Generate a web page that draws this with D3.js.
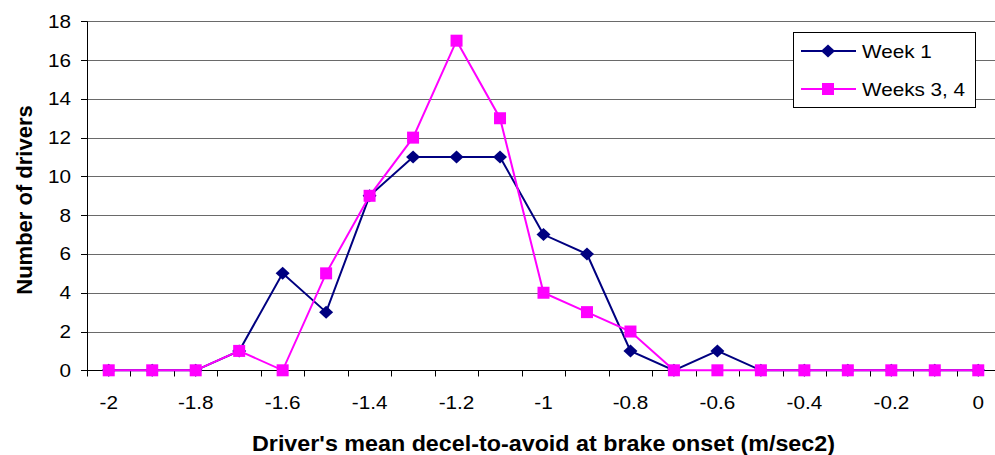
<!DOCTYPE html>
<html><head><meta charset="utf-8">
<script src="https://cdn.jsdelivr.net/npm/d3@7"></script>
<style>body{margin:0;background:#fff;} text{font-family:Arial,"Liberation Sans",sans-serif;}</style>
</head><body>
<svg id="c" width="995" height="455"></svg>
<script>
const categories = [-2,-1.9,-1.8,-1.7,-1.6,-1.5,-1.4,-1.3,-1.2,-1.1,-1,-0.9,-0.8,-0.7,-0.6,-0.5,-0.4,-0.3,-0.2,-0.1,0];
const week1 = [0,0,0,1,5,3,9,11,11,11,7,6,1,0,1,0,0,0,0,0,0];
const weeks34 = [0,0,0,1,0,5,9,12,17,13,4,3,2,0,0,0,0,0,0,0,0];
const yTicks = [0,2,4,6,8,10,12,14,16,18];
const xLabels = ["-2","-1.8","-1.6","-1.4","-1.2","-1","-0.8","-0.6","-0.4","-0.2","0"];
const seriesNames = ["Week 1","Weeks 3, 4"];

const svg = d3.select("#c");
const L = 87, R = 1000, T = 21.3, B = 370.3;
const SX = 1.15; // horizontal text stretch
const x = d3.scaleBand().domain(categories.map(String)).range([L, R]);
const y = d3.scaleLinear().domain([0,18]).range([B, T]);

// gridlines
svg.append("g").selectAll("line").data(yTicks.filter(d=>d>0)).join("line")
  .attr("x1", L).attr("x2", R).attr("y1", d=>Math.round(y(d))+0.5).attr("y2", d=>Math.round(y(d))+0.5)
  .attr("stroke", "#6a6a6a").attr("stroke-width", 1);

// y axis
const yg = svg.append("g");
yg.append("line").attr("x1", L+0.5).attr("x2", L+0.5).attr("y1", T).attr("y2", B+0.5).attr("stroke","#000");
yg.selectAll("line.tk").data(yTicks).join("line").attr("class","tk")
  .attr("x1", L-6).attr("x2", L).attr("y1", d=>Math.round(y(d))+0.5).attr("y2", d=>Math.round(y(d))+0.5).attr("stroke","#000");
yg.selectAll("text").data(yTicks).join("text")
  .attr("transform", d=>`translate(71,${y(d)+6.5}) scale(${SX},1)`)
  .attr("text-anchor","end").attr("font-size",18).attr("fill","#000").text(d=>d);

// x axis
const xg = svg.append("g").attr("transform", `translate(0,${Math.round(B)+0.5})`);
xg.append("line").attr("x1", L).attr("x2", R).attr("stroke", "#000");
const tickPos = d3.range(categories.length + 1).map(i => L + i * x.bandwidth());
xg.selectAll("line.tk").data(tickPos).join("line").attr("class","tk")
  .attr("x1", d=>Math.round(d)+0.5).attr("x2", d=>Math.round(d)+0.5).attr("y1", 0).attr("y2", 6).attr("stroke", "#000");
xg.selectAll("text").data(categories.filter((d,i)=>i%2===0)).join("text")
  .attr("transform", d => `translate(${x(String(d)) + x.bandwidth()/2},38) scale(${SX},1)`)
  .attr("text-anchor", "middle").attr("font-size", 18).attr("fill", "#000")
  .text((d,i) => xLabels[i]);

const cx = (d,i) => x(String(categories[i])) + x.bandwidth()/2;
const line = d3.line().x((d,i)=>cx(d,i)).y(d=>y(d));
const diamond = "M0,-6.5L7,0L0,6.5L-7,0Z";

// series 1
svg.append("path").datum(week1).attr("d", line).attr("fill","none").attr("stroke","#000080").attr("stroke-width",2);
svg.append("g").selectAll("path").data(week1).join("path")
  .attr("d", diamond)
  .attr("transform", (d,i)=>`translate(${cx(d,i)},${y(d)})`)
  .attr("fill", "#000080");

// series 2
svg.append("path").datum(weeks34).attr("d", line).attr("fill","none").attr("stroke","#FF00FF").attr("stroke-width",2);
svg.append("g").selectAll("rect").data(weeks34).join("rect")
  .attr("x", (d,i)=>cx(d,i)-6).attr("y", d=>y(d)-6).attr("width",12).attr("height",12)
  .attr("fill", "#FF00FF");

// legend
const lg = svg.append("g");
lg.append("rect").attr("x",793.5).attr("y",32.5).attr("width",182).attr("height",75)
  .attr("fill","#fff").attr("stroke","#000");
const rows = [{y:51, c:"#000080", m:"d"},{y:89, c:"#FF00FF", m:"s"}];
rows.forEach((r,i)=>{
  lg.append("line").attr("x1",801).attr("x2",856).attr("y1",r.y).attr("y2",r.y).attr("stroke",r.c).attr("stroke-width",2);
  if (r.m==="d") lg.append("path").attr("d", diamond).attr("transform",`translate(828,${r.y})`).attr("fill",r.c);
  else lg.append("rect").attr("x",822).attr("y",r.y-6).attr("width",12).attr("height",12).attr("fill",r.c);
  lg.append("text").attr("transform",`translate(862,${r.y+7}) scale(${SX},1)`).attr("font-size",18).attr("fill","#000").text(seriesNames[i]);
});

// axis titles
svg.append("text").attr("x", 252).attr("y", 451)
  .attr("font-size",22).attr("font-weight","bold")
  .attr("textLength", 583).attr("lengthAdjust","spacingAndGlyphs")
  .text("Driver's mean decel-to-avoid at brake onset (m/sec2)");
svg.append("text").attr("transform","translate(32,200) rotate(-90)").attr("text-anchor","middle")
  .attr("font-size",22).attr("font-weight","bold")
  .text("Number of drivers");
</script>
</body></html>
